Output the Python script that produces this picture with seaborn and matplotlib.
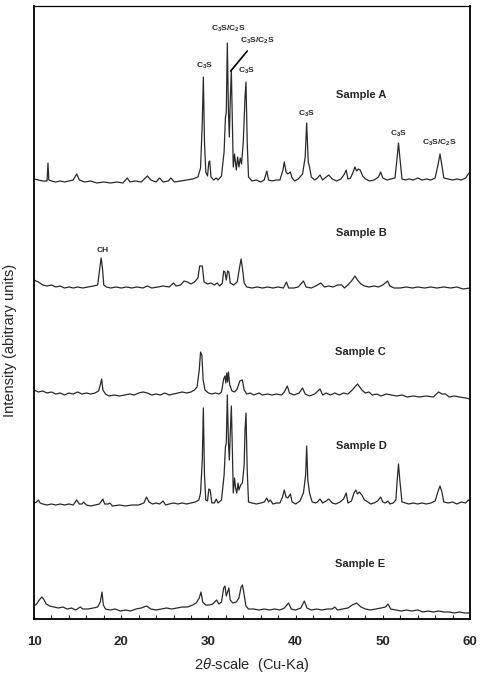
import numpy as np
import pandas as pd
import matplotlib
matplotlib.use("Agg")
import matplotlib.pyplot as plt
import seaborn as sns

# ---------------- data ----------------
samples = ["Sample A", "Sample B", "Sample C", "Sample D", "Sample E"]
offsets = [437, 331, 224, 114, 9]

A_x = [10.0, 10.5, 11.0, 11.5, 11.6, 11.7, 12.0, 12.5, 13.0, 13.5, 14.0, 14.5, 14.9, 15.2, 15.8, 16.5, 17.2, 18.0, 18.8, 19.5,
       20.2, 20.7, 21.0, 21.6, 22.3, 23.0, 23.4, 24.0, 24.4, 24.8, 25.4, 25.7, 26.1, 26.8, 27.5, 28.2, 28.8, 29.1, 29.3, 29.42,
       29.55, 29.7, 29.9, 30.05, 30.15, 30.3, 30.6, 30.9, 31.1, 31.5, 31.8, 31.95, 32.05, 32.17, 32.3, 32.4, 32.5, 32.63, 32.75, 32.85,
       33.0, 33.1, 33.2, 33.35, 33.5, 33.65, 33.8, 34.0, 34.2, 34.31, 34.45, 34.6, 35.0, 35.5, 36.0, 36.4, 36.7, 36.9, 37.3, 37.8,
       38.2, 38.55, 38.7, 38.9, 39.1, 39.4, 39.6, 39.9, 40.3, 40.8, 41.1, 41.27, 41.45, 41.6, 41.8, 42.2, 42.5, 42.8, 43.1, 43.5,
       43.8, 44.2, 44.7, 45.2, 45.6, 45.8, 46.0, 46.3, 46.6, 46.8, 47.0, 47.2, 47.4, 47.7, 48.0, 48.5, 49.0, 49.5, 49.75, 50.0,
       50.5, 50.9, 51.4, 51.65, 51.8, 51.95, 52.2, 52.6, 53.0, 53.5, 54.0, 54.5, 55.0, 55.5, 56.0, 56.35, 56.56, 56.75, 57.0, 57.5,
       58.0, 58.5, 59.0, 59.5, 59.8, 60.0]
A_y = [3, 2, 1, 1, 19, 2, 1, 0, 1, 0, 1, 2, 8, 2, 0, 1, -1, 0, -1, 0,
       -1, 4, 0, 1, 0, 6, 2, 0, 4, 0, 1, 4, 0, 1, 2, 3, 5, 14, 60, 105,
       40, 10, 6, 20, 21, 5, 2, 4, 2, 6, 30, 64, 70, 139, 70, 45, 80, 112, 60, 15,
       28, 20, 12, 25, 15, 24, 18, 40, 85, 100, 40, 5, 1, 2, 0, 2, 11, 2, 1, 2,
       2, 12, 20, 10, 8, 10, 4, 1, 3, 8, 25, 59, 20, 15, 5, 2, 4, 7, 2, 5,
       7, 3, 1, 3, 8, 12, 3, 4, 10, 15, 11, 13, 12, 6, 3, 1, 2, 5, 10, 4,
       2, 3, 4, 25, 39, 25, 3, 2, 3, 2, 4, 2, 3, 2, 4, 18, 28, 18, 4, 3,
       2, 3, 2, 4, 8, 10]

B_x = [10.0, 10.5, 11.0, 11.5, 12.0, 12.5, 13.0, 13.5, 14.0, 14.5, 15.0, 15.6, 16.2, 16.8, 17.3, 17.55, 17.7, 17.85, 18.0, 18.3,
       18.8, 19.4, 20.0, 20.6, 21.2, 21.8, 22.5, 23.0, 23.5, 24.2, 24.8, 25.5, 26.0, 26.3, 26.8, 27.2, 27.6, 28.0, 28.4, 28.8,
       29.0, 29.3, 29.5, 29.9, 30.3, 30.7, 31.0, 31.3, 31.6, 31.75, 31.9, 32.05, 32.2, 32.35, 32.5, 32.9, 33.3, 33.6, 33.75, 33.9,
       34.1, 34.4, 35.0, 35.6, 36.2, 36.8, 37.4, 38.0, 38.6, 38.95, 39.2, 39.8, 40.3, 40.9, 41.2, 41.8, 42.3, 42.9, 43.3, 43.8,
       44.3, 44.8, 45.3, 45.6, 46.0, 46.5, 46.8, 47.1, 47.5, 47.9, 48.4, 49.0, 49.5, 50.0, 50.55, 50.8, 51.3, 52.0, 52.7, 53.4,
       54.0, 54.8, 55.5, 56.2, 57.0, 57.8, 58.5, 59.2, 60.0]
B_y = [8, 6, 3, 2, 3, 1, 2, 0, 1, 0, 1, 0, 1, 2, 3, 20, 30, 20, 3, 1,
       0, 1, 0, 1, 0, 1, 0, 2, 0, 1, 2, 1, 5, 2, 3, 7, 6, 4, 6, 10,
       22, 22, 6, 4, 5, 3, 5, 2, 5, 17, 16, 8, 17, 16, 5, 3, 6, 22, 29, 20,
       5, 1, 0, 1, 0, 1, 0, 1, 0, 6, 0, 0, 1, 7, 1, 0, 2, 5, 1, 2,
       1, 3, 3, 0, 3, 8, 12, 8, 4, 2, 1, 2, 1, 3, 7, 2, 0, 0, 1, 0,
       1, 0, 1, 0, 1, 0, 1, -1, 0]

C_x = [10.0, 10.5, 11.0, 11.5, 12.0, 12.5, 13.0, 13.5, 14.0, 14.5, 15.0, 15.5, 16.0, 16.5, 17.0, 17.4, 17.6, 17.76, 17.9, 18.2,
       18.6, 19.2, 19.8, 20.4, 21.0, 21.5, 22.0, 22.5, 23.0, 23.5, 24.0, 24.5, 25.0, 25.5, 26.0, 26.5, 27.0, 27.5, 28.0, 28.4,
       28.7, 28.95, 29.1, 29.25, 29.4, 29.6, 30.0, 30.4, 30.8, 31.2, 31.5, 31.75, 31.9, 32.0, 32.1, 32.2, 32.3, 32.45, 32.7, 33.0,
       33.3, 33.6, 33.9, 34.1, 34.4, 34.8, 35.2, 35.8, 36.2, 36.8, 37.3, 37.8, 38.4, 38.7, 39.05, 39.3, 39.8, 40.4, 40.8, 41.1,
       41.6, 42.2, 42.8, 43.1, 43.5, 44.0, 44.5, 45.0, 45.5, 46.0, 46.5, 47.1, 47.6, 48.0, 48.4, 48.8, 49.3, 49.8, 50.4, 51.0,
       51.6, 52.2, 52.8, 53.5, 54.2, 55.0, 55.8, 56.4, 56.8, 57.2, 57.6, 58.2, 58.8, 59.5, 60.0]
C_y = [5, 3, 4, 2, 3, 1, 2, 0, 2, 1, 3, 1, 2, 1, 2, 4, 10, 16, 5, 1,
       -1, 0, -1, 0, 1, 0, 2, 3, 2, 0, 1, 0, 2, 0, 1, 2, 3, 2, 3, 5,
       8, 25, 43, 40, 15, 5, 2, 1, 2, 1, 3, 16, 19, 12, 22, 13, 23, 10, 4, 3,
       6, 14, 15, 5, 1, 2, 0, 2, 0, 1, 0, 1, 0, 3, 9, 2, 0, 2, 7, 1,
       -1, 1, 6, 0, 2, 0, 2, 0, 2, 1, 5, 11, 5, 2, 3, 0, 1, -1, 1, 0,
       -1, 0, -2, -1, -2, -1, -2, 3, 1, 1, -2, -1, -2, -3, -4]

D_x = [10.0, 10.3, 10.5, 10.7, 11.0, 11.5, 12.0, 12.5, 13.0, 13.5, 14.0, 14.5, 14.9, 15.2, 15.5, 15.7, 16.0, 16.5, 17.0, 17.5,
       17.9, 18.1, 18.5, 18.7, 19.0, 19.8, 20.5, 21.2, 22.0, 22.6, 22.9, 23.2, 23.6, 24.0, 24.4, 24.8, 25.1, 25.5, 26.0, 26.5,
       27.0, 27.5, 28.0, 28.5, 28.9, 29.1, 29.3, 29.42, 29.55, 29.7, 29.9, 30.05, 30.2, 30.4, 30.7, 30.9, 31.1, 31.5, 31.8, 31.95,
       32.05, 32.17, 32.3, 32.4, 32.5, 32.63, 32.75, 32.85, 33.0, 33.1, 33.25, 33.4, 33.5, 33.7, 33.9, 34.1, 34.2, 34.31, 34.45, 34.6,
       35.0, 35.5, 36.0, 36.4, 36.7, 36.9, 37.1, 37.4, 37.8, 38.2, 38.5, 38.7, 38.9, 39.1, 39.4, 39.6, 40.0, 40.5, 40.9, 41.15,
       41.27, 41.4, 41.6, 41.9, 42.3, 42.5, 42.8, 43.1, 43.5, 43.8, 44.2, 44.6, 45.1, 45.5, 45.8, 46.0, 46.4, 46.7, 46.9, 47.1,
       47.3, 47.6, 47.9, 48.3, 48.6, 49.0, 49.4, 49.75, 50.0, 50.3, 50.6, 50.8, 51.2, 51.5, 51.65, 51.8, 51.95, 52.2, 52.6, 53.0,
       53.5, 54.0, 54.5, 55.0, 55.5, 56.0, 56.35, 56.56, 56.75, 57.0, 57.5, 58.0, 58.5, 59.0, 59.5, 59.8, 60.0]
D_y = [2, 3, 5, 2, 1, 0, 1, 0, 1, 0, 1, 0, 5, 1, 1, 3, 0, -1, 0, 1,
       6, 1, 1, 2, -1, 0, -1, 0, 0, 2, 8, 3, 1, 2, 1, 4, 0, 1, 2, 1,
       2, 1, 2, 3, 5, 12, 45, 97, 30, 5, 4, 16, 15, 2, 2, 6, 2, 5, 30, 58,
       62, 110, 62, 45, 70, 99, 55, 12, 27, 18, 12, 22, 15, 20, 22, 40, 75, 92, 35, 3,
       2, 1, 2, 3, 7, 3, 5, 1, 2, 2, 8, 15, 8, 7, 11, 3, 1, 4, 12, 30,
       59, 25, 12, 3, 2, 3, 6, 2, 4, 6, 2, 1, 3, 6, 12, 2, 4, 12, 15, 11,
       13, 10, 5, 3, 1, 2, 4, 8, 3, 2, 4, 1, 2, 5, 25, 41, 25, 3, 2, 1,
       2, 1, 2, 1, 2, 4, 14, 19, 14, 3, 2, 3, 1, 3, 2, 5, 4]

E_x = [10.0, 10.3, 10.6, 10.9, 11.1, 11.4, 11.8, 12.3, 12.8, 13.3, 13.8, 14.3, 14.8, 15.3, 15.6, 16.2, 16.8, 17.3, 17.6, 17.8,
       17.95, 18.2, 18.7, 19.3, 19.9, 20.5, 21.1, 21.7, 22.3, 22.9, 23.4, 24.0, 24.6, 25.2, 25.8, 26.4, 27.0, 27.6, 28.2, 28.6,
       28.95, 29.15, 29.35, 29.7, 30.1, 30.5, 30.95, 31.2, 31.5, 31.75, 31.9, 32.05, 32.2, 32.35, 32.5, 32.8, 33.2, 33.5, 33.75, 33.9,
       34.05, 34.3, 34.6, 35.2, 35.8, 36.4, 37.0, 37.6, 38.2, 38.7, 39.2, 39.5, 40.0, 40.6, 41.0, 41.3, 41.8, 42.4, 43.0, 43.6,
       44.2, 44.5, 44.8, 45.4, 46.0, 46.5, 47.0, 47.5, 48.0, 48.6, 49.2, 49.8, 50.3, 50.6, 50.9, 51.5, 52.1, 52.7, 53.3, 54.0,
       54.6, 55.2, 55.8, 56.4, 57.0, 57.6, 58.2, 58.8, 59.4, 60.0]
E_y = [4, 6, 10, 13, 11, 6, 4, 3, 2, 3, 1, 2, 0, 3, 1, 1, 2, 3, 8, 18,
       5, 1, 0, 1, -1, 0, -1, 1, 2, 4, 1, 0, 1, 2, 1, 2, 3, 3, 5, 7,
       12, 18, 8, 5, 5, 6, 10, 6, 8, 22, 24, 14, 18, 22, 10, 7, 8, 12, 23, 25,
       18, 4, 1, 1, 0, 1, 0, 1, 0, 2, 7, 1, 0, 2, 9, 2, 0, 1, 0, 1,
       1, 3, 0, 1, 2, 5, 7, 3, 1, 0, 1, 2, 3, 6, 1, 0, -1, 0, -1, 0,
       -2, -1, -2, -1, -2, -2, -3, -2, -3, -3]

xs = [A_x, B_x, C_x, D_x, E_x]
ys = [A_y, B_y, C_y, D_y, E_y]

# peak annotations: (text, 2theta, intensity)
peak_labels = [r"C$_{\mathbf{3}}$S", r"C$_{\mathbf{3}}$S/C$_{\mathbf{2}}$S", r"C$_{\mathbf{3}}$S/C$_{\mathbf{2}}$S",
               r"C$_{\mathbf{3}}$S", r"C$_{\mathbf{3}}$S", r"C$_{\mathbf{3}}$S", r"C$_{\mathbf{3}}$S/C$_{\mathbf{2}}$S", "CH"]
peak_label_x = [29.5, 32.25, 35.6, 34.35, 41.3, 51.85, 56.45, 17.9]
peak_label_y = [553, 590, 578, 548, 505, 485, 476, 368]
sample_label_x = [47.5, 47.5, 47.45, 47.5, 47.4]
sample_label_y = [524, 386, 267, 173, 55]
x_ticks = [10, 20, 30, 40, 50, 60]

# ---------------- build long-form table ----------------
rows = []
for name, off, xv, yv in zip(samples, offsets, xs, ys):
    for a, b in zip(xv, yv):
        rows.append((name, a, b + off))
df = pd.DataFrame(rows, columns=["sample", "two_theta", "intensity"])

sns.set_style("white")
plt.rcParams["font.family"] = ["Liberation Sans", "DejaVu Sans"]
plt.rcParams["mathtext.fontset"] = "custom"
plt.rcParams["mathtext.rm"] = "Liberation Sans"
plt.rcParams["mathtext.it"] = "Liberation Sans:italic"
plt.rcParams["mathtext.bf"] = "Liberation Sans:bold"

fig = plt.figure(figsize=(4.8, 6.82), dpi=100)
ax = fig.add_axes([34 / 480, 63 / 682, 436 / 480, 613 / 682])

sns.lineplot(data=df, x="two_theta", y="intensity", hue="sample", units="sample",
             estimator=None, sort=False, palette=["#2a2a2a"] * 5, linewidth=0.9,
             legend=False, ax=ax)

ax.set_xlim(10, 60)
ax.set_ylim(0, 613)
ax.set_yticks([])
ax.set_xticks(x_ticks)
ax.set_xticks(np.arange(10, 61, 2), minor=True)
ax.tick_params(axis="x", which="both", direction="in", length=3, width=0.8,
               bottom=True, top=False, pad=12)
for lab in ax.get_xticklabels():
    lab.set_fontweight("bold")
    lab.set_fontsize(9.5)
for s in ax.spines.values():
    s.set_visible(True)
    s.set_color("black")
    s.set_linewidth(1.3)
ax.spines["top"].set_linewidth(0.9)

ax.set_xlabel(r"2$\mathit{\theta}$-scale  (Cu-Ka)", fontsize=10.5, labelpad=6)
ax.set_ylabel("Intensity (abitrary units)", fontsize=10.5)
ax.yaxis.set_label_coords(-0.038, 0.455)

for t, px, py in zip(peak_labels, peak_label_x, peak_label_y):
    ax.text(px, py, t, fontsize=6, fontweight="bold", ha="center", va="center")
ax.plot([32.56, 34.46], [548, 568], color="black", lw=1.2)

for name, px, py in zip(samples, sample_label_x, sample_label_y):
    ax.text(px, py, name, fontsize=8, fontweight="bold", ha="center", va="center")

fig.savefig("out.png", dpi=100)
